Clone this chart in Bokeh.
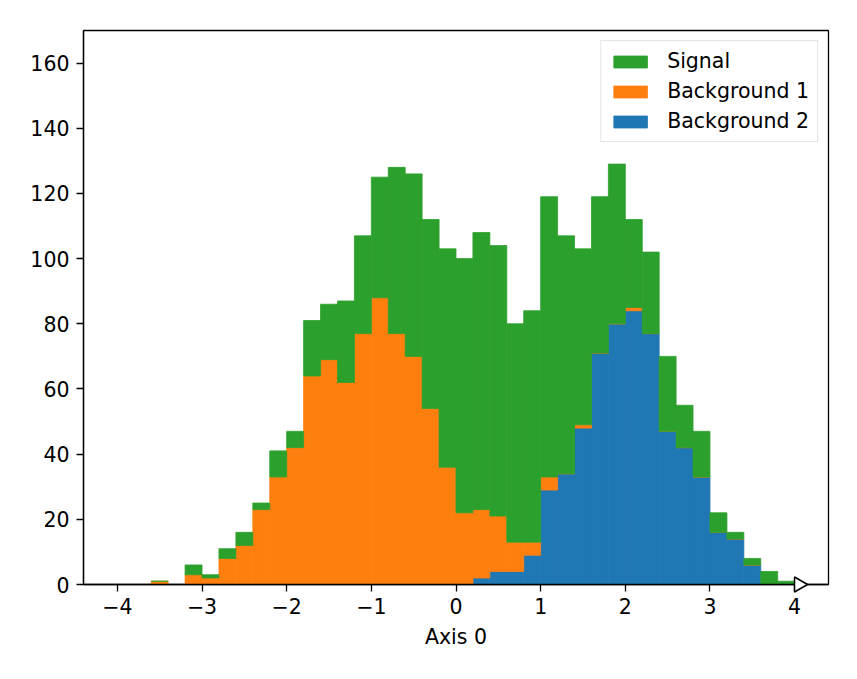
import numpy as np
from bokeh.plotting import figure
from bokeh.models import ColumnDataSource, FixedTicker, Legend, LegendItem
from bokeh.embed import file_html
from bokeh.resources import INLINE

# ---- data (40 bins from -4 to 4) ----
bin_edges = np.linspace(-4, 4, 41)
background2 = [0, 0, 0, 0, 0, 0, 0, 0, 0, 0,
               0, 0, 0, 0, 0, 0, 0, 0, 0, 0,
               0, 2, 4, 4, 9, 29, 34, 48, 71, 80,
               84, 77, 47, 42, 33, 16, 14, 6, 0, 0]
background1 = [0, 0, 1, 0, 3, 2, 8, 12, 23, 33,
               42, 64, 69, 62, 77, 88, 77, 70, 54, 36,
               22, 21, 17, 9, 4, 4, 0, 1, 0, 0,
               1, 0, 0, 0, 0, 0, 0, 0, 0, 0]
signal = [0, 0, 0, 0, 3, 1, 3, 4, 2, 8,
          5, 17, 17, 25, 30, 37, 51, 56, 58, 67,
          78, 85, 83, 67, 71, 86, 73, 54, 48, 49,
          27, 25, 23, 13, 14, 6, 2, 2, 4, 1]
x_ticks = [-4, -3, -2, -1, 0, 1, 2, 3, 4]
y_ticks = [0, 20, 40, 60, 80, 100, 120, 140, 160]
x_label = "Axis 0"
series_names = ["Background 2", "Background 1", "Signal"]
colors = ["#1f77b4", "#ff7f0e", "#2ca02c"]

centers = 0.5 * (bin_edges[:-1] + bin_edges[1:])
bw = float(bin_edges[1] - bin_edges[0])
src = ColumnDataSource(dict(x=centers, bg2=background2, bg1=background1, sig=signal))

FONT = "DejaVu Sans"
FS = "20.5px"

p = figure(width=841, height=663, output_backend="svg", toolbar_location=None,
           x_range=(-4.4, 4.4), y_range=(0, 170),
           min_border_left=83, min_border_right=13, min_border_top=30, min_border_bottom=79)
p.background_fill_color = "white"
p.border_fill_color = "white"
p.outline_line_color = "black"
p.outline_line_width = 1.3
p.grid.visible = False

rs = p.vbar_stack(["bg2", "bg1", "sig"], x="x", width=bw, source=src,
                  fill_color=colors, line_color=colors, line_width=0.8)

# overflow marker (right-pointing open triangle at the last edge)
tri = p.scatter(x=[bin_edges[-1] + 0.05], y=[0], marker="triangle", angle=-np.pi / 2,
                size=15, fill_color="white", line_color="black", line_width=1.5)
tri.level = "overlay"

for ax in (p.xaxis[0], p.yaxis[0]):
    ax.axis_line_color = "black"
    ax.axis_line_width = 1.3
    ax.major_tick_line_color = "black"
    ax.major_tick_line_width = 1.3
    ax.major_tick_out = 7
    ax.major_tick_in = 0
    ax.minor_tick_line_color = None
    ax.major_label_text_font = FONT
    ax.major_label_text_font_size = FS
    ax.major_label_text_color = "black"
    ax.axis_label_text_font = FONT
    ax.axis_label_text_font_size = FS
    ax.axis_label_text_font_style = "normal"
    ax.axis_label_text_color = "black"

p.xaxis.ticker = FixedTicker(ticks=x_ticks)
p.xaxis.major_label_overrides = {t: (str(t).replace("-", "\u2212")) for t in x_ticks}
p.xaxis.major_label_standoff = 6
p.xaxis.axis_label = x_label
p.xaxis.axis_label_standoff = 8
p.yaxis.ticker = FixedTicker(ticks=y_ticks)
p.yaxis.major_label_standoff = 7

legend = Legend(items=[LegendItem(label=series_names[2], renderers=[rs[2]]),
                       LegendItem(label=series_names[1], renderers=[rs[1]]),
                       LegendItem(label=series_names[0], renderers=[rs[0]])],
                location="top_right")
legend.margin = 10
legend.padding = 8
legend.spacing = 6
legend.glyph_width = 42
legend.glyph_height = 15
legend.label_standoff = 16
legend.label_text_font = FONT
legend.label_text_font_size = FS
legend.label_text_color = "black"
legend.border_line_color = "#cccccc"
legend.border_line_width = 1
legend.background_fill_color = "white"
legend.background_fill_alpha = 0.8
p.add_layout(legend)

open("out.html", "w").write(file_html(p, INLINE))
